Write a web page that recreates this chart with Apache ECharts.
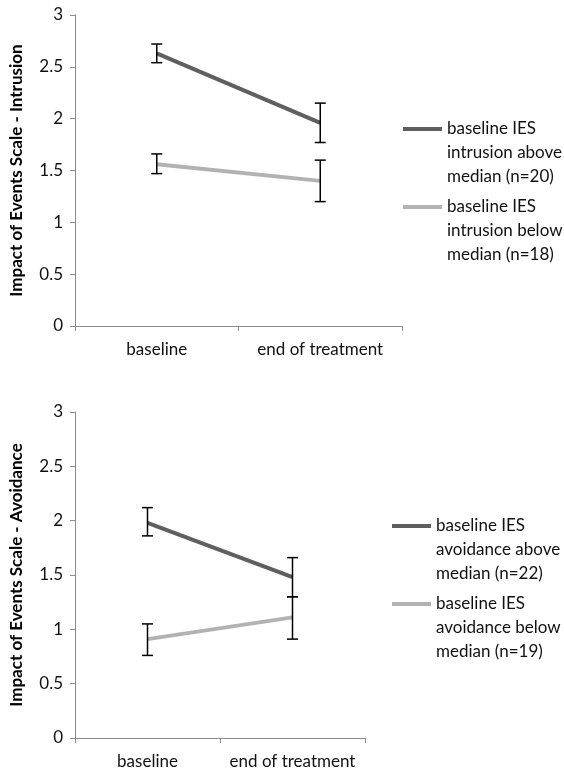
<!DOCTYPE html>
<html>
<head>
<meta charset="utf-8">
<script src="https://cdn.jsdelivr.net/npm/echarts@6/dist/echarts.min.js"></script>
<style>
  html, body { margin: 0; padding: 0; background: #fff; }
  #main { width: 564px; height: 775px; }
</style>
</head>
<body>
<div id="main"></div>
<script>
const categories = ['baseline', 'end of treatment'];
const yTicks = [0, 0.5, 1, 1.5, 2, 2.5, 3];

// top panel: intrusion
const intrusionNames = ['baseline IES\nintrusion above\nmedian (n=20)', 'baseline IES\nintrusion below\nmedian (n=18)'];
const intrusionAbove = [2.63, 1.96];
const intrusionAboveErr = [[2.54, 2.72], [1.77, 2.15]];
const intrusionBelow = [1.56, 1.40];
const intrusionBelowErr = [[1.47, 1.66], [1.20, 1.60]];

// bottom panel: avoidance
const avoidanceNames = ['baseline IES\navoidance above\nmedian (n=22)', 'baseline IES\navoidance below\nmedian (n=19)'];
const avoidanceAbove = [1.98, 1.48];
const avoidanceAboveErr = [[1.86, 2.12], [1.30, 1.66]];
const avoidanceBelow = [0.91, 1.11];
const avoidanceBelowErr = [[0.76, 1.05], [0.91, 1.30]];

const darkGray = '#5f5f5f';
const lightGray = '#b2b2b2';
const font = 'Lato';

const chart = echarts.init(document.getElementById('main'));

function xAxisFor(grid) {
  return {
    type: 'category',
    gridIndex: grid,
    data: categories,
    axisLine: { lineStyle: { color: '#8c8c8c', width: 1 } },
    axisTick: { show: true, length: 5, lineStyle: { color: '#8c8c8c' } },
    axisLabel: { color: '#111', fontSize: 17, fontFamily: font, margin: 15, interval: 0 },
    splitLine: { show: false }
  };
}

function yAxisFor(grid, name) {
  return {
    type: 'value',
    gridIndex: grid,
    min: 0,
    max: 3,
    interval: 0.5,
    name: name,
    nameLocation: 'middle',
    nameGap: 50,
    nameTextStyle: { color: '#000', fontSize: 17, fontWeight: 'bold', fontFamily: font },
    axisLine: { show: true, lineStyle: { color: '#8c8c8c', width: 1 } },
    axisTick: { show: true, length: 5, lineStyle: { color: '#8c8c8c' } },
    axisLabel: {
      color: '#111', fontSize: 17, fontFamily: font, margin: 12,
      formatter: v => yTicks.indexOf(v) >= 0 ? String(v) : ''
    },
    splitLine: { show: false }
  };
}

function lineSeries(name, values, color, idx) {
  return {
    name: name,
    type: 'line',
    xAxisIndex: idx,
    yAxisIndex: idx,
    data: values,
    symbol: 'none',
    lineStyle: { color: color, width: 4 },
    itemStyle: { color: color },
    z: 2
  };
}

function errorSeries(errs, idx) {
  return {
    type: 'custom',
    xAxisIndex: idx,
    yAxisIndex: idx,
    data: errs.map((e, i) => [i, e[0], e[1]]),
    z: 5,
    silent: true,
    renderItem: function (params, api) {
      const lo = api.coord([api.value(0), api.value(1)]);
      const hi = api.coord([api.value(0), api.value(2)]);
      const w = 5.5;
      const style = { stroke: '#000', lineWidth: 1.5 };
      return {
        type: 'group',
        children: [
          { type: 'line', shape: { x1: lo[0], y1: lo[1], x2: hi[0], y2: hi[1] }, style: style },
          { type: 'line', shape: { x1: lo[0] - w, y1: lo[1], x2: lo[0] + w, y2: lo[1] }, style: style },
          { type: 'line', shape: { x1: hi[0] - w, y1: hi[1], x2: hi[0] + w, y2: hi[1] }, style: style }
        ]
      };
    }
  };
}

// two leading blank lines keep the icon level with the first text line
function legendFor(name, color, left, top) {
  return {
    data: [{ name: name, icon: 'rect', itemStyle: { color: color } }],
    left: left,
    top: top,
    orient: 'vertical',
    itemWidth: 39,
    itemHeight: 4,
    itemGap: 0,
    padding: 0,
    selectedMode: false,
    formatter: n => '\n\n' + n,
    textStyle: { color: '#111', fontSize: 17, fontFamily: font, lineHeight: 24 }
  };
}

const option = {
  backgroundColor: '#fff',
  animation: false,
  grid: [
    { left: 72, top: 15, width: 330, height: 311, containLabel: false },
    { left: 73, top: 412, width: 292, height: 326, containLabel: false }
  ],
  xAxis: [xAxisFor(0), xAxisFor(1)],
  yAxis: [
    yAxisFor(0, 'Impact of Events Scale - Intrusion'),
    yAxisFor(1, 'Impact of Events Scale - Avoidance')
  ],
  legend: [
    legendFor(intrusionNames[0], darkGray, 403, 69),
    legendFor(intrusionNames[1], lightGray, 403, 147),
    legendFor(avoidanceNames[0], darkGray, 392, 466),
    legendFor(avoidanceNames[1], lightGray, 392, 544)
  ],
  series: [
    lineSeries(intrusionNames[0], intrusionAbove, darkGray, 0),
    lineSeries(intrusionNames[1], intrusionBelow, lightGray, 0),
    errorSeries(intrusionAboveErr, 0),
    errorSeries(intrusionBelowErr, 0),
    lineSeries(avoidanceNames[0], avoidanceAbove, darkGray, 1),
    lineSeries(avoidanceNames[1], avoidanceBelow, lightGray, 1),
    errorSeries(avoidanceAboveErr, 1),
    errorSeries(avoidanceBelowErr, 1)
  ]
};

chart.setOption(option);
</script>
</body>
</html>
